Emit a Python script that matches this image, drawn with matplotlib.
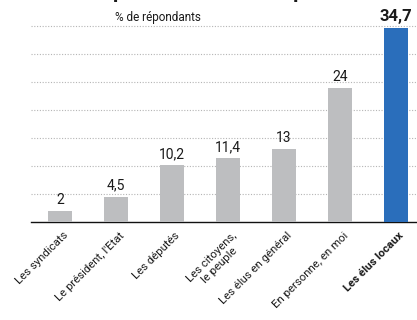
import matplotlib
matplotlib.use("Agg")
import matplotlib.pyplot as plt
from matplotlib import font_manager as fm

names = {f.name for f in fm.fontManager.ttflist}
FONT = "Liberation Sans Narrow" if "Liberation Sans Narrow" in names else "Roboto"
plt.rcParams['font.family'] = [FONT, 'DejaVu Sans']

categories = ["Les syndicats", "Le président, l'Etat", "Les députés",
              "Les citoyens,\nle peuple", "Les élus en général",
              "En personne, en moi", "Les élus locaux"]
values = [2, 4.5, 10.2, 11.4, 13, 24, 34.7]
value_labels = ["2", "4,5", "10,2", "11,4", "13", "24", "34,7"]
grid_ticks = [5, 10, 15, 20, 25, 30, 35]

GREY = "#BDBEC0"
BLUE = "#2A6EBB"
TXT = "#1a1a1a"

fig = plt.figure(figsize=(4.17, 3.20), dpi=100)
ax = fig.add_axes([31/417, 1-222/320, 1-31/417, 201.2/320])

colors = [GREY]*(len(values)-1) + [BLUE]
x = list(range(len(values)))
ax.bar(x, values, width=0.43, color=colors, zorder=3)
ax.set_xlim(-0.52, 6.375)
ax.set_ylim(0, 36)

for yv in grid_ticks:
    ax.axhline(yv, color="#b5b5b5", lw=0.8, ls=(0, (1, 1.5)), zorder=1)

for s in ["top", "right", "left"]:
    ax.spines[s].set_visible(False)
ax.spines["bottom"].set_color("#111")
ax.spines["bottom"].set_linewidth(1.0)
ax.set_yticks([])
ax.set_xticks(x)
ax.set_xticklabels([])
ax.tick_params(axis="x", length=0)

for i, (v, lab) in enumerate(zip(values, value_labels)):
    last = i == len(values) - 1
    ax.annotate(lab, (i, v), xytext=(0, 3), textcoords="offset points",
                ha="center", va="bottom", fontsize=12 if last else 10,
                fontweight="bold" if last else "normal", color=TXT)

for i, c in enumerate(categories):
    last = i == len(categories) - 1
    ax.annotate(c, (i, 0), xytext=(2, -6), textcoords="offset points",
                ha="right", va="top", rotation=45, rotation_mode="anchor",
                fontsize=8.2, multialignment="center", linespacing=1.15,
                fontweight="bold" if last else "normal", color=TXT)

fig.text(115/417, 1-17/320, "% de répondants", fontsize=8.5, color=TXT,
         ha="left", va="center")
fig.text(113/417, 1-(-7)/320, "pour mieux vous représenter", fontsize=15,
         fontweight="bold", color=TXT, ha="left", va="center")

fig.savefig("out.png", dpi=100)
